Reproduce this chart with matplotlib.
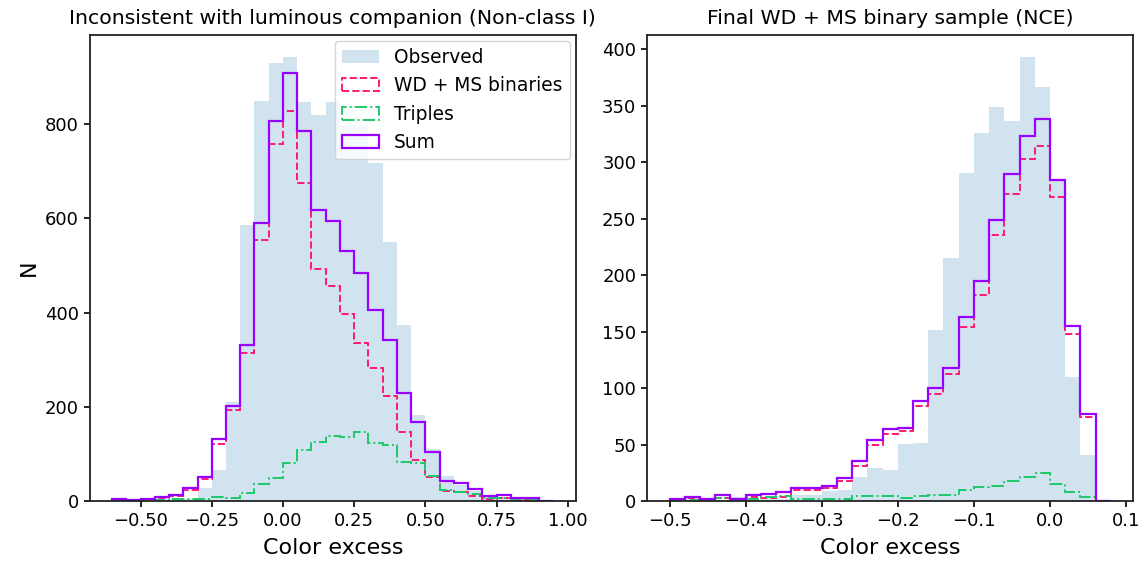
import numpy as np
import matplotlib
matplotlib.use("Agg")
import matplotlib.pyplot as plt

# ---------------- data: left panel (Non-class I) ----------------
left_bin_start, left_bin_width, left_nbins = -0.60, 0.05, 31
left_observed = [0, 0.5, 1, 2, 3, 5, 26.8, 65.6, 210, 586, 849, 929, 942, 847, 819, 847,
                 798, 798, 717, 550, 374.6, 183.4, 109.4, 52.9, 35, 22, 12, 8, 5, 3, 1]
left_wdms = [3, 1, 4, 6, 10, 23.5, 46.5, 122, 194, 313.9, 553, 758, 827.5, 676, 493, 455.7,
             396, 335, 282, 222, 146, 87, 51.5, 20.5, 19.7, 10.6, 3.5, 5.6, 2, 2, 0.5]
left_triples = [0.5, 0.4, 1, 1.8, 3.4, 3.3, 5, 9, 7, 17.7, 37, 48.5, 81.5, 109, 124.5, 138.5,
                135, 147, 123.6, 119, 83, 81, 52.5, 23, 19, 14.4, 7.3, 6.8, 4, 5, 0.5]
left_sum = [3.5, 1.4, 5, 7.8, 13.4, 26.8, 51.5, 131, 201, 331.6, 590, 807, 909, 786, 618, 594.7,
            530, 483, 405.8, 342, 229.5, 168, 104.2, 43.5, 38.8, 25, 11, 12.4, 6, 7, 1]

# ---------------- data: right panel (NCE) ----------------
right_bin_start, right_bin_width, right_nbins = -0.50, 0.02, 29
right_observed = [0, 0, 0, 0.5, 3.8, 1, 1.5, 2, 5.3, 5.3, 8.8, 9.7, 21.2, 28.8, 27.2, 50.9,
                  51, 151.5, 215.6, 290.7, 326, 349, 336.7, 393, 367, 283, 110, 40.3, 0]
right_wdms = [1.7, 3, 1.2, 2.3, 1, 3.3, 3, 3.9, 10, 10, 11.2, 18, 31, 50, 59.2, 62,
              83.8, 94.9, 112.8, 154, 182.5, 235.3, 272, 302.5, 314, 269.5, 148, 74, 0]
right_triples = [0.5, 0.5, 1, 3, 0.5, 2, 3.5, 4.4, 1.5, 1.5, 2, 2, 4.4, 4.4, 4.5, 2.4,
                 4.5, 5.4, 5.4, 9.4, 12.6, 13.5, 17.6, 21.2, 24.4, 15.3, 8, 3.5, 0]
right_sum = [2.2, 3.5, 2.2, 5.3, 1.5, 5.3, 6.5, 8.3, 11.5, 11.5, 13.2, 20, 35.3, 54.2, 63.5, 64.5,
             88.2, 100.3, 118, 163.3, 194.7, 248.6, 289.4, 323.5, 338.2, 284.5, 155.3, 77.1, 0]

titles = ["Inconsistent with luminous companion (Non-class I)",
          "Final WD + MS binary sample (NCE)"]
xlabel = "Color excess"
ylabel = "N"
labels = ["Observed", "WD + MS binaries", "Triples", "Sum"]

c_obs = "tab:blue"
c_wd = "#ff1a6e"
c_tr = "#1dc96a"
c_sum = "#9a00ff"

plt.rcParams["font.family"] = ["DejaVu Sans"]

fig, axes = plt.subplots(1, 2, figsize=(11.44, 5.61), dpi=100)
fig.subplots_adjust(left=90 / 1144, right=1133 / 1144, top=1 - 35 / 561,
                    bottom=1 - 501 / 561, wspace=0.148)


def draw(ax, start, width, n, obs, wd, tr, sm):
    edges = start + width * np.arange(n + 1)
    centers = 0.5 * (edges[:-1] + edges[1:])
    ax.hist(centers, bins=edges, weights=obs, color=c_obs, alpha=0.2, label=labels[0])
    ax.hist(centers, bins=edges, weights=wd, histtype="step", color=c_wd,
            linestyle="--", linewidth=1.4, label=labels[1])
    ax.hist(centers, bins=edges, weights=tr, histtype="step", color=c_tr,
            linestyle="-.", linewidth=1.4, label=labels[2])
    ax.hist(centers, bins=edges, weights=sm, histtype="step", color=c_sum,
            linestyle="-", linewidth=1.6, label=labels[3])
    ax.set_xlabel(xlabel, fontsize=16, labelpad=6)
    ax.tick_params(labelsize=13, width=1.2, length=4.5)
    for s in ax.spines.values():
        s.set_linewidth(1.3)
        s.set_color("#222222")


ax1, ax2 = axes
draw(ax1, left_bin_start, left_bin_width, left_nbins,
     left_observed, left_wdms, left_triples, left_sum)
draw(ax2, right_bin_start, right_bin_width, right_nbins,
     right_observed, right_wdms, right_triples, right_sum)

ax1.set_title(titles[0], fontsize=14.7, pad=8)
ax2.set_title(titles[1], fontsize=14.7, pad=8)
ax1.set_ylabel(ylabel, fontsize=16)
ax1.set_xticks(np.arange(-0.5, 1.01, 0.25))
ax1.set_yticks(np.arange(0, 801, 200))
ax2.set_xticks(np.arange(-0.5, 0.101, 0.1))
ax2.set_yticks(np.arange(0, 401, 50))

ax1.legend(loc="upper right", fontsize=13.4, borderaxespad=0.3)

fig.savefig("out.png", dpi=100)
